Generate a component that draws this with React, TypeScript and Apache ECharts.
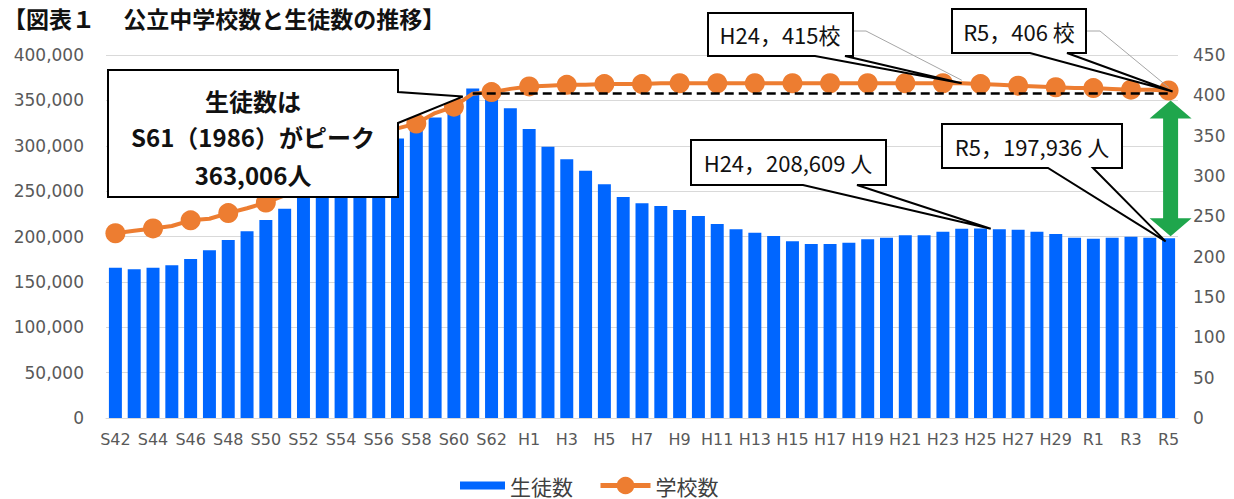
import React, { useEffect, useRef } from 'react';
import * as echarts from 'echarts';

const categories = [
  'S42', 'S43', 'S44', 'S45', 'S46', 'S47', 'S48', 'S49', 'S50', 'S51',
  'S52', 'S53', 'S54', 'S55', 'S56', 'S57', 'S58', 'S59', 'S60', 'S61',
  'S62', 'S63', 'H1', 'H2', 'H3', 'H4', 'H5', 'H6', 'H7', 'H8',
  'H9', 'H10', 'H11', 'H12', 'H13', 'H14', 'H15', 'H16', 'H17', 'H18',
  'H19', 'H20', 'H21', 'H22', 'H23', 'H24', 'H25', 'H26', 'H27', 'H28',
  'H29', 'H30', 'R1', 'R2', 'R3', 'R4', 'R5',
];

// 生徒数 (left axis)
const students = [
  165600, 163800, 165600, 168200, 175200, 184800, 196100, 205700, 218200, 230600,
  243000, 256000, 270000, 283000, 296000, 308000, 319000, 331000, 352000, 363006,
  357000, 341300, 318400, 298900, 285000, 272500, 257500, 243500, 236600, 233600,
  229200, 222600, 213800, 207900, 204200, 200500, 194700, 191700, 191700, 193200,
  196900, 198700, 201300, 201300, 205300, 208609, 208900, 207900, 207500, 205300,
  202700, 198700, 197500, 198700, 199800, 198700, 197936,
];

// 学校数 (right axis)
const schools = [
  229, 232, 235, 238, 245, 247, 254, 260, 267, 276,
  289, 303, 317, 331, 345, 359, 365, 378, 386, 402,
  404, 408, 411, 412, 413, 413, 414, 414, 414, 415,
  415, 415, 415, 415, 415, 415, 415, 415, 415, 415,
  415, 415, 415, 415, 415, 415, 414, 413, 412, 411,
  410, 409, 409, 408, 407, 407, 406,
];

const leftMax = 400000;
const leftInterval = 50000;
const rightMax = 450;
const rightInterval = 50;
const dashedLevel = 403;

const JP = '"Noto Sans CJK JP", "Noto Sans", sans-serif';
const NUM = '"DejaVu Sans", "Noto Sans", sans-serif';

function callout(L: number, T: number, R: number, B: number, b1: number, b2: number, tip: number[], z = 100) {
  return {
    type: 'polygon',
    z,
    shape: { points: [[L, T], [R, T], [R, B], [b2, B], tip, [b1, B], [L, B]] },
    style: { fill: '#ffffff', stroke: '#000000', lineWidth: 2 },
  };
}

function label(x: number, y: number, text: string, size = 22, weight: any = 'normal', z = 101) {
  return {
    type: 'text',
    z,
    x,
    y,
    style: {
      text,
      fill: '#111111',
      font: `${weight} ${size}px ${JP}`,
      textAlign: 'center',
      textVerticalAlign: 'middle',
    },
  };
}

export default function App() {
  const ref = useRef<HTMLDivElement>(null);
  useEffect(() => {
    if (!ref.current) return;
    const chart = echarts.init(ref.current, undefined, { renderer: 'svg' });
    const option: any = {
      animation: false,
      grid: { left: 106, right: 56, top: 55, bottom: 81 },
      xAxis: {
        type: 'category',
        data: categories,
        axisLine: { lineStyle: { color: '#d9d9d9', width: 1 } },
        axisTick: { show: false },
        axisLabel: { interval: 1, color: '#595959', fontSize: 16, fontFamily: NUM, margin: 13 },
      },
      yAxis: [
        {
          type: 'value',
          min: 0,
          max: leftMax,
          interval: leftInterval,
          axisLine: { show: false },
          axisTick: { show: false },
          splitLine: { lineStyle: { color: '#d9d9d9', width: 1 } },
          axisLabel: {
            color: '#595959',
            fontSize: 17,
            fontFamily: NUM,
            margin: 22,
            formatter: (v: number) => v.toLocaleString('en-US'),
          },
        },
        {
          type: 'value',
          min: 0,
          max: rightMax,
          interval: rightInterval,
          position: 'right',
          axisLine: { show: false },
          axisTick: { show: false },
          splitLine: { show: false },
          axisLabel: { color: '#595959', fontSize: 17, fontFamily: NUM, margin: 15 },
        },
      ],
      legend: [
        {
          data: ['生徒数'],
          left: 455,
          top: 470,
          itemWidth: 45,
          itemHeight: 8,
          icon: 'rect',
          itemGap: 5,
          textStyle: { fontSize: 21, color: '#404040', fontFamily: JP },
        },
        {
          data: ['学校数'],
          left: 593,
          top: 470,
          itemWidth: 50,
          itemHeight: 22,
          lineStyle: { width: 5 },
          textStyle: { fontSize: 21, color: '#404040', fontFamily: JP },
        },
      ],
      series: [
        {
          name: '生徒数',
          type: 'bar',
          yAxisIndex: 0,
          data: students,
          barWidth: '69%',
          itemStyle: { color: '#0066FF' },
        },
        {
          name: '学校数',
          type: 'line',
          yAxisIndex: 1,
          data: schools,
          symbol: 'circle',
          symbolSize: 20,
          itemStyle: { color: '#ED7D31' },
          lineStyle: { color: '#ED7D31', width: 4 },
          markLine: {
            silent: true,
            symbol: 'none',
            label: { show: false },
            lineStyle: { color: '#000000', type: [9, 5], width: 2.5 },
            data: [[{ coord: ['S61', dashedLevel] }, { coord: ['R5', dashedLevel] }]],
          },
        },
      ],
    };
    chart.setOption(option);

    const pL = (c: string, v: number) => chart.convertToPixel({ xAxisIndex: 0, yAxisIndex: 0 }, [c, v]) as number[];
    const pR = (c: string, v: number) => chart.convertToPixel({ xAxisIndex: 0, yAxisIndex: 1 }, [c, v]) as number[];

    const last = categories.length - 1;
    const peakTip = pL('S61', students[19]);
    const h24School = pR('H24', schools[45]);
    const r5School = pR('R5', schools[last]);
    const h24Student = pL('H24', students[45]);
    const r5Student = pL('R5', students[last]);

    const cx = r5Student[0] + 2;
    const top = r5School[1] + 10;
    const bot = r5Student[1] - 2;
    const hw = 21, sw = 7.5, hh = 18;

    const graphic: any[] = [
      {
        type: 'text',
        z: 110,
        x: 3,
        y: 6,
        style: {
          text: '【図表１　 公立中学校数と生徒数の推移】',
          fill: '#111111',
          font: `bold 23px ${JP}`,
          textVerticalAlign: 'top',
        },
      },
      // Big peak callout
      {
        type: 'polygon',
        z: 100,
        shape: {
          points: [[108, 70], [398, 70], [398, 92], [peakTip[0] - 10, peakTip[1] + 8], [398, 123], [398, 197], [108, 197]],
        },
        style: { fill: '#ffffff', stroke: '#000000', lineWidth: 2 },
      },
      label(253, 100, '生徒数は', 24, 'bold'),
      label(253, 136, 'S61（1986）がピーク', 24, 'bold'),
      label(253, 174, '363,006人', 24, 'bold'),
      // H24 415校
      {
        type: 'polyline', z: 99,
        shape: { points: [[853, 31], [866, 31], [h24School[0], h24School[1] - 3]] },
        style: { stroke: '#a6a6a6', lineWidth: 1, fill: null },
      },
      callout(708, 13, 853, 56, 815, 845, [h24School[0], h24School[1]]),
      label(780, 34, 'H24，415校'),
      // R5 406 校
      {
        type: 'polyline', z: 99,
        shape: { points: [[1086, 31], [1100, 31], [r5School[0], r5School[1] - 3]] },
        style: { stroke: '#a6a6a6', lineWidth: 1, fill: null },
      },
      callout(952, 9, 1086, 53, 1030, 1067, [r5School[0] + 4, r5School[1] + 1]),
      label(1019, 31, 'R5，406 校'),
      // H24 208,609 人
      callout(691, 140, 886, 185, 803, 857, [h24Student[0] + 29, h24Student[1]]),
      label(788, 162, 'H24，208,609 人'),
      // R5 197,936 人
      callout(942, 124, 1122, 168, 1048, 1093, [r5Student[0] - 3, r5Student[1] + 3]),
      label(1032, 146, 'R5，197,936 人'),
      // green double arrow
      {
        type: 'polygon',
        z: 105,
        shape: {
          points: [
            [cx, top], [cx + hw, top + hh], [cx + sw, top + hh], [cx + sw, bot - hh], [cx + hw, bot - hh],
            [cx, bot], [cx - hw, bot - hh], [cx - sw, bot - hh], [cx - sw, top + hh], [cx - hw, top + hh],
          ],
        },
        style: { fill: '#1FA64C', stroke: null },
      },
    ];
    chart.setOption({ graphic });

    return () => chart.dispose();
  }, []);
  return <div ref={ref} style={{ position: 'absolute', left: 0, top: 0, width: 1234, height: 499 }} />;
}
